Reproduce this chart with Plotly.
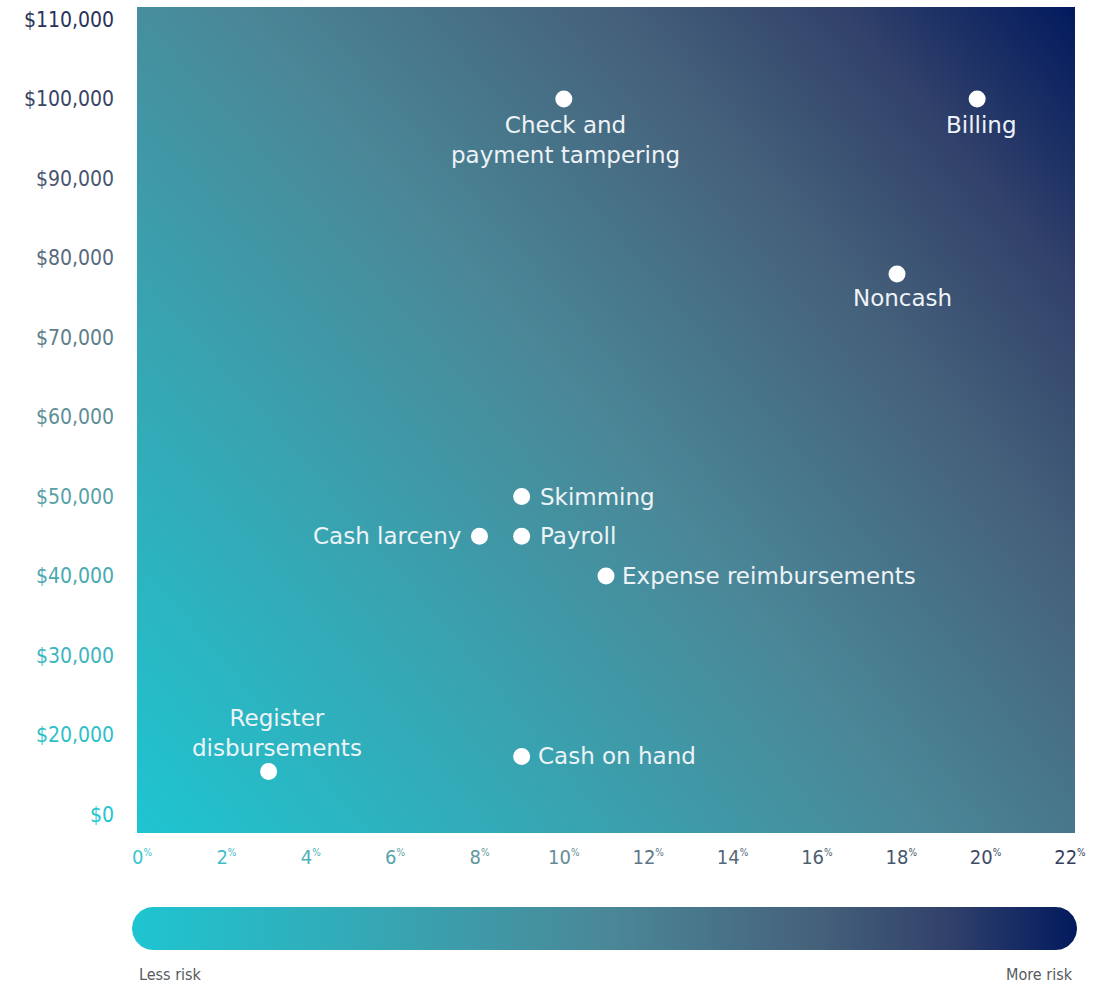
import numpy as np
import plotly.graph_objects as go

# ---- data ----
schemes = ["Check and<br>payment tampering", "Billing", "Noncash", "Skimming", "Payroll",
           "Cash larceny", "Expense reimbursements", "Cash on hand", "Register<br>disbursements"]
frequency_pct = [10, 19.8, 17.9, 9, 9, 8, 11, 9, 3]
median_loss = [100000, 100000, 78000, 50000, 45000, 45000, 40000, 17300, 15400]

x_tick_vals = [0, 2, 4, 6, 8, 10, 12, 14, 16, 18, 20, 22]
y_tick_vals = [10000, 20000, 30000, 40000, 50000, 60000, 70000, 80000, 90000, 100000, 110000]
y_tick_text = ["$0", "$20,000", "$30,000", "$40,000", "$50,000", "$60,000", "$70,000",
               "$80,000", "$90,000", "$100,000", "$110,000"]

# ---- styles ----
# label placement per point: (xanchor, yanchor, xshift, yshift)
label_style = [("center", "top", 2, -11), ("center", "top", 4, -11), ("center", "top", 5, -9),
               ("left", "middle", 16, 0), ("left", "middle", 16, 0), ("right", "middle", -16, 0),
               ("left", "middle", 14, 0), ("left", "middle", 14, 0), ("center", "bottom", 8, 9)]
x_tick_colors = ["#3cc6cf", "#3fbec7", "#4fb0b8", "#5aa3ab", "#6197a0", "#668d97",
                 "#5d7787", "#566a7a", "#4e5f72", "#46566b", "#3e4c64", "#363f5c"]
y_tick_colors = ["#22c6ce", "#2ebfc8", "#3db5bd", "#4aa9b0", "#59a0a7", "#5e8f97",
                 "#607e89", "#586b7d", "#4a5771", "#3a4565", "#2a335a"]
grad = [[0.0, "#1ec5d1"], [0.25, "#35a8b5"], [0.5, "#4a8898"], [0.72, "#45627b"],
        [0.86, "#32426b"], [1.0, "#021a5e"]]

XR = [-0.12, 22.12]
YR = [7673, 111572]
TICKFONT = "DejaVu Sans Condensed, Roboto, sans-serif"
LABELFONT = "DejaVu Sans, Open Sans, sans-serif"

fig = go.Figure()

# gradient background
fig.add_trace(go.Heatmap(x=XR, y=YR, z=[[0, 0.6], [0.45, 1]], zsmooth="best",
                         colorscale=grad, zmin=0, zmax=1, showscale=False, hoverinfo="skip",
                         xaxis="x", yaxis="y"))

# points
fig.add_trace(go.Scatter(x=frequency_pct, y=median_loss, mode="markers",
                         marker=dict(size=17, color="white", line=dict(width=0)),
                         hoverinfo="skip", xaxis="x", yaxis="y"))

# rounded legend bar (stadium shape)
W, H = 945.0, 43.0
r = H / 2
t1 = np.linspace(np.pi / 2, 3 * np.pi / 2, 40)
t2 = np.linspace(-np.pi / 2, np.pi / 2, 40)
bx = np.concatenate([r + r * np.cos(t1), W - r + r * np.cos(t2)])
by = np.concatenate([r + r * np.sin(t1), r + r * np.sin(t2)])
bx = np.append(bx, bx[0])
by = np.append(by, by[0])
fig.add_trace(go.Scatter(x=bx, y=by, mode="lines", fill="toself",
                         line=dict(width=0, color="rgba(0,0,0,0)"),
                         fillgradient=dict(type="horizontal", colorscale=grad),
                         hoverinfo="skip", xaxis="x2", yaxis="y2"))

x_tick_text = [f'<span style="color:{c}">{v}<sup><span style="font-size:10px">%</span></sup></span>'
               for v, c in zip(x_tick_vals, x_tick_colors)]
y_tick_text_c = [f'<span style="color:{c}">{t}</span>' for t, c in zip(y_tick_text, y_tick_colors)]

annotations = []
for name, xv, yv, (xa, ya, xs, ys) in zip(schemes, frequency_pct, median_loss, label_style):
    annotations.append(dict(text=name, x=xv, y=yv, xref="x", yref="y", showarrow=False,
                            xanchor=xa, yanchor=ya, xshift=xs, yshift=ys,
                            font=dict(family=LABELFONT, size=23, color="#eef3f7")))
annotations += [
    dict(text="Less risk", x=0.00738, y=-0.0232, xref="paper", yref="paper",
         xanchor="left", yanchor="middle", showarrow=False,
         font=dict(family=TICKFONT, size=16, color="#555a5e")),
    dict(text="More risk", x=0.99579, y=-0.0232, xref="paper", yref="paper",
         xanchor="right", yanchor="middle", showarrow=False,
         font=dict(family=TICKFONT, size=16, color="#555a5e")),
]

fig.update_layout(
    width=1109, height=988,
    margin=dict(l=130, r=30, t=5, b=35),
    paper_bgcolor="white", plot_bgcolor="white",
    showlegend=False,
    xaxis=dict(domain=[0.00738, 0.99579], range=XR, tickvals=x_tick_vals, ticktext=x_tick_text,
               showgrid=False, zeroline=False, showline=False, ticks="",
               ticklabelstandoff=10,
               tickfont=dict(family=TICKFONT, size=20, color="#4a8898")),
    yaxis=dict(domain=[0.12658, 0.99789], range=YR, tickvals=y_tick_vals, ticktext=y_tick_text_c,
               showgrid=False, zeroline=False, showline=False, ticks="",
               ticklabelstandoff=22,
               tickfont=dict(family=TICKFONT, size=21, color="#4a8898")),
    xaxis2=dict(domain=[0.00211, 0.99789], range=[0, W], visible=False, fixedrange=True),
    yaxis2=dict(domain=[0.00316, 0.04852], range=[0, H], visible=False, fixedrange=True,
                anchor="x2"),
    annotations=annotations,
)

fig.write_html("out.html")
